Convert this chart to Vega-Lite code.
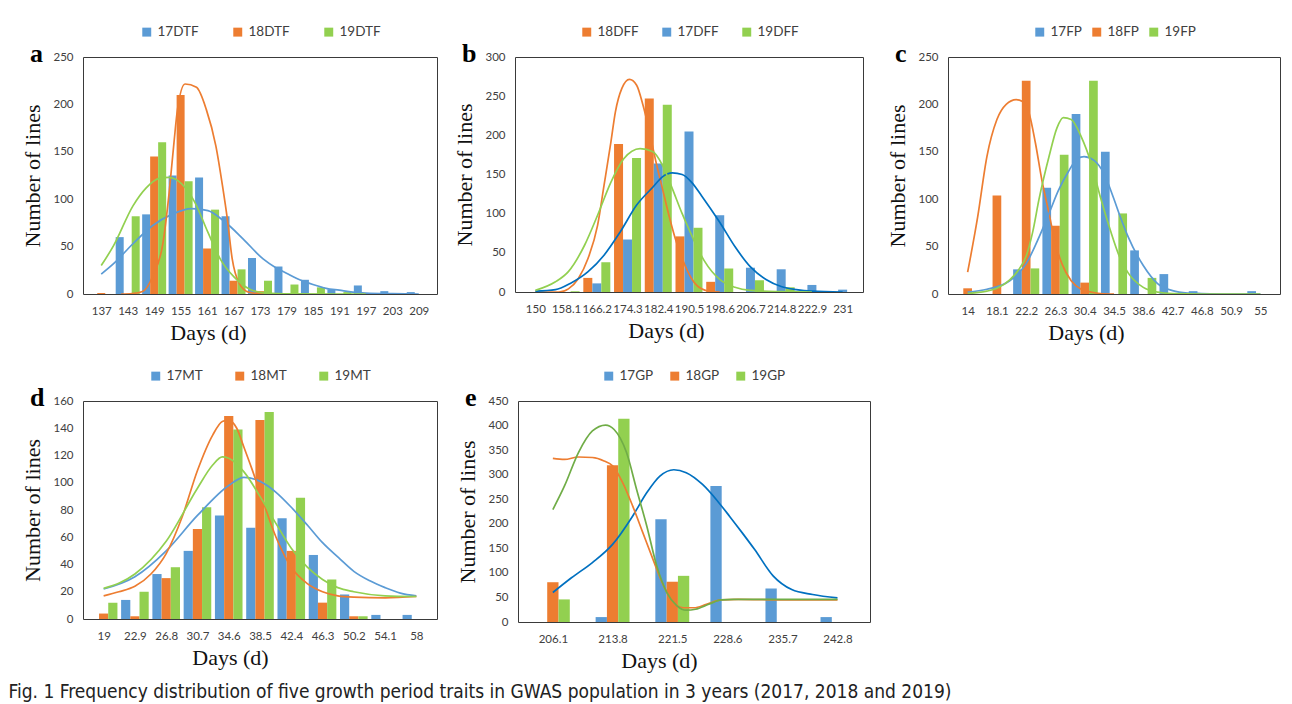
{
"$schema": "https://vega.github.io/schema/vega-lite/v6.json",
"background": "white",
"padding": {"left": 8, "top": 24, "right": 4, "bottom": 4},
"config": {
  "view": {"stroke": "#3a3a3a", "strokeWidth": 1},
  "axis": {"grid": false, "ticks": false, "domain": false, "labelFont": "Lato", "labelFontSize": 11.5, "labelColor": "#404040", "titleFont": "Liberation Serif", "titleFontSize": 22, "titleFontWeight": "normal", "titleColor": "#111111"},
  "axisX": {"titlePadding": 6, "labelPadding": 11},
  "axisY": {"titlePadding": 8, "labelPadding": 10},
  "legend": {"orient": "top", "direction": "horizontal", "title": null, "symbolType": "square", "symbolSize": 80, "symbolStrokeWidth": 0, "labelFont": "Lato", "labelFontSize": 13.5, "labelColor": "#404040", "labelOffset": 4, "offset": 18, "padding": 0, "layout": {"top": {"anchor": "middle"}}},
  "title": {"font": "Liberation Serif", "fontSize": 26, "fontWeight": "bold", "color": "#000000", "orient": "top", "anchor": "start", "frame": "group", "align": "left", "baseline": "alphabetic", "dx": -53, "offset": -42}
},
"title": {"text": "Fig. 1  Frequency distribution of five growth period traits in GWAS population in 3 years (2017, 2018 and 2019)", "orient": "bottom", "anchor": "start", "frame": "bounds", "align": "left", "baseline": "top", "dx": -13, "offset": 11, "font": "DejaVu Sans Condensed, Liberation Sans Narrow, sans-serif", "fontSize": 19, "fontWeight": "normal", "color": "#222222"},
"datasets": {
  "a": [
    {"kind":"bar","series":"17DTF","day":143,"lines":60},{"kind":"bar","series":"17DTF","day":149,"lines":84},{"kind":"bar","series":"17DTF","day":155,"lines":125},{"kind":"bar","series":"17DTF","day":161,"lines":123},{"kind":"bar","series":"17DTF","day":167,"lines":82},{"kind":"bar","series":"17DTF","day":173,"lines":38},{"kind":"bar","series":"17DTF","day":179,"lines":29},{"kind":"bar","series":"17DTF","day":185,"lines":15},{"kind":"bar","series":"17DTF","day":191,"lines":5},{"kind":"bar","series":"17DTF","day":197,"lines":9},{"kind":"bar","series":"17DTF","day":203,"lines":3},{"kind":"bar","series":"17DTF","day":209,"lines":2},
    {"kind":"bar","series":"18DTF","day":137,"lines":1},{"kind":"bar","series":"18DTF","day":149,"lines":145},{"kind":"bar","series":"18DTF","day":155,"lines":210},{"kind":"bar","series":"18DTF","day":161,"lines":48},{"kind":"bar","series":"18DTF","day":167,"lines":14},{"kind":"bar","series":"18DTF","day":173,"lines":3},
    {"kind":"bar","series":"19DTF","day":143,"lines":82},{"kind":"bar","series":"19DTF","day":149,"lines":160},{"kind":"bar","series":"19DTF","day":155,"lines":119},{"kind":"bar","series":"19DTF","day":161,"lines":89},{"kind":"bar","series":"19DTF","day":167,"lines":26},{"kind":"bar","series":"19DTF","day":173,"lines":14},{"kind":"bar","series":"19DTF","day":179,"lines":10},{"kind":"bar","series":"19DTF","day":185,"lines":7},{"kind":"bar","series":"19DTF","day":191,"lines":2},
    {"kind":"curve","series":"17DTF","day":137,"lines":21},{"kind":"curve","series":"17DTF","day":139.8,"lines":32},{"kind":"curve","series":"17DTF","day":144.2,"lines":53},{"kind":"curve","series":"17DTF","day":148.6,"lines":72},{"kind":"curve","series":"17DTF","day":153,"lines":84},{"kind":"curve","series":"17DTF","day":157.5,"lines":90},{"kind":"curve","series":"17DTF","day":161.2,"lines":88},{"kind":"curve","series":"17DTF","day":164.8,"lines":77},{"kind":"curve","series":"17DTF","day":169.2,"lines":58},{"kind":"curve","series":"17DTF","day":173.7,"lines":37},{"kind":"curve","series":"17DTF","day":176.5,"lines":28},{"kind":"curve","series":"17DTF","day":179,"lines":22},{"kind":"curve","series":"17DTF","day":182,"lines":15},{"kind":"curve","series":"17DTF","day":185,"lines":10},{"kind":"curve","series":"17DTF","day":188,"lines":6},{"kind":"curve","series":"17DTF","day":191,"lines":4},{"kind":"curve","series":"17DTF","day":194,"lines":2},{"kind":"curve","series":"17DTF","day":197,"lines":1},{"kind":"curve","series":"17DTF","day":203,"lines":0.3},{"kind":"curve","series":"17DTF","day":209,"lines":0},
    {"kind":"curve","series":"18DTF","day":141.5,"lines":0},{"kind":"curve","series":"18DTF","day":144,"lines":0.5},{"kind":"curve","series":"18DTF","day":146.5,"lines":3},{"kind":"curve","series":"18DTF","day":148.7,"lines":19},{"kind":"curve","series":"18DTF","day":151,"lines":54},{"kind":"curve","series":"18DTF","day":152.4,"lines":107},{"kind":"curve","series":"18DTF","day":153.5,"lines":160},{"kind":"curve","series":"18DTF","day":154.3,"lines":195},{"kind":"curve","series":"18DTF","day":156,"lines":221.5},{"kind":"curve","series":"18DTF","day":158.6,"lines":218},{"kind":"curve","series":"18DTF","day":160.8,"lines":195},{"kind":"curve","series":"18DTF","day":163,"lines":156},{"kind":"curve","series":"18DTF","day":164.5,"lines":114},{"kind":"curve","series":"18DTF","day":165.6,"lines":79},{"kind":"curve","series":"18DTF","day":166.7,"lines":37},{"kind":"curve","series":"18DTF","day":168.2,"lines":12},{"kind":"curve","series":"18DTF","day":170.4,"lines":2},{"kind":"curve","series":"18DTF","day":173.3,"lines":0},
    {"kind":"curve","series":"19DTF","day":137,"lines":30},{"kind":"curve","series":"19DTF","day":139.8,"lines":51},{"kind":"curve","series":"19DTF","day":144.2,"lines":93},{"kind":"curve","series":"19DTF","day":147.2,"lines":112},{"kind":"curve","series":"19DTF","day":150.1,"lines":122},{"kind":"curve","series":"19DTF","day":152.3,"lines":123},{"kind":"curve","series":"19DTF","day":155.3,"lines":116},{"kind":"curve","series":"19DTF","day":158.2,"lines":97},{"kind":"curve","series":"19DTF","day":161.2,"lines":65},{"kind":"curve","series":"19DTF","day":164.1,"lines":36},{"kind":"curve","series":"19DTF","day":167.1,"lines":18},{"kind":"curve","series":"19DTF","day":170.7,"lines":5},{"kind":"curve","series":"19DTF","day":174.4,"lines":1},{"kind":"curve","series":"19DTF","day":180,"lines":0.2},{"kind":"curve","series":"19DTF","day":190,"lines":0},{"kind":"curve","series":"19DTF","day":197,"lines":0}
  ],
  "b": [
    {"kind":"bar","series":"18DFF","day":166.2,"lines":18},{"kind":"bar","series":"18DFF","day":174.3,"lines":189},{"kind":"bar","series":"18DFF","day":182.4,"lines":247},{"kind":"bar","series":"18DFF","day":190.5,"lines":71},{"kind":"bar","series":"18DFF","day":198.6,"lines":13},
    {"kind":"bar","series":"17DFF","day":166.2,"lines":11},{"kind":"bar","series":"17DFF","day":174.3,"lines":67},{"kind":"bar","series":"17DFF","day":182.4,"lines":164},{"kind":"bar","series":"17DFF","day":190.5,"lines":205},{"kind":"bar","series":"17DFF","day":198.6,"lines":98},{"kind":"bar","series":"17DFF","day":206.7,"lines":31},{"kind":"bar","series":"17DFF","day":214.8,"lines":29},{"kind":"bar","series":"17DFF","day":222.9,"lines":9},{"kind":"bar","series":"17DFF","day":231,"lines":3},
    {"kind":"bar","series":"19DFF","day":158.1,"lines":1},{"kind":"bar","series":"19DFF","day":166.2,"lines":38},{"kind":"bar","series":"19DFF","day":174.3,"lines":171},{"kind":"bar","series":"19DFF","day":182.4,"lines":239},{"kind":"bar","series":"19DFF","day":190.5,"lines":82},{"kind":"bar","series":"19DFF","day":198.6,"lines":30},{"kind":"bar","series":"19DFF","day":206.7,"lines":15},{"kind":"bar","series":"19DFF","day":214.8,"lines":6},
    {"kind":"curve","series":"18DFF","day":150,"lines":0},{"kind":"curve","series":"18DFF","day":156.2,"lines":0},{"kind":"curve","series":"18DFF","day":158.7,"lines":4},{"kind":"curve","series":"18DFF","day":161.3,"lines":17},{"kind":"curve","series":"18DFF","day":163.9,"lines":43},{"kind":"curve","series":"18DFF","day":166.4,"lines":85},{"kind":"curve","series":"18DFF","day":168.1,"lines":136},{"kind":"curve","series":"18DFF","day":169.9,"lines":191},{"kind":"curve","series":"18DFF","day":171.1,"lines":230},{"kind":"curve","series":"18DFF","day":172.8,"lines":260},{"kind":"curve","series":"18DFF","day":174.8,"lines":271.5},{"kind":"curve","series":"18DFF","day":176.7,"lines":264},{"kind":"curve","series":"18DFF","day":178.4,"lines":238},{"kind":"curve","series":"18DFF","day":180.1,"lines":204},{"kind":"curve","series":"18DFF","day":181.8,"lines":166},{"kind":"curve","series":"18DFF","day":183.5,"lines":132},{"kind":"curve","series":"18DFF","day":185.2,"lines":98},{"kind":"curve","series":"18DFF","day":186.9,"lines":68},{"kind":"curve","series":"18DFF","day":189.1,"lines":38},{"kind":"curve","series":"18DFF","day":191.2,"lines":17},{"kind":"curve","series":"18DFF","day":193.8,"lines":4},{"kind":"curve","series":"18DFF","day":196.5,"lines":0.5},{"kind":"curve","series":"18DFF","day":198.6,"lines":0},
    {"kind":"curve","series":"17DFF","day":150,"lines":1},{"kind":"curve","series":"17DFF","day":155.3,"lines":3},{"kind":"curve","series":"17DFF","day":159.2,"lines":11},{"kind":"curve","series":"17DFF","day":163.9,"lines":26},{"kind":"curve","series":"17DFF","day":168.1,"lines":47},{"kind":"curve","series":"17DFF","day":172.4,"lines":77},{"kind":"curve","series":"17DFF","day":176.7,"lines":111},{"kind":"curve","series":"17DFF","day":181,"lines":134},{"kind":"curve","series":"17DFF","day":183.5,"lines":147},{"kind":"curve","series":"17DFF","day":186.1,"lines":152},{"kind":"curve","series":"17DFF","day":188.7,"lines":150},{"kind":"curve","series":"17DFF","day":191.2,"lines":140},{"kind":"curve","series":"17DFF","day":193.8,"lines":123},{"kind":"curve","series":"17DFF","day":198.6,"lines":89},{"kind":"curve","series":"17DFF","day":202.6,"lines":58},{"kind":"curve","series":"17DFF","day":206.7,"lines":32},{"kind":"curve","series":"17DFF","day":210.8,"lines":16},{"kind":"curve","series":"17DFF","day":214.8,"lines":7},{"kind":"curve","series":"17DFF","day":218.8,"lines":3},{"kind":"curve","series":"17DFF","day":222.9,"lines":1},{"kind":"curve","series":"17DFF","day":231,"lines":0},
    {"kind":"curve","series":"19DFF","day":150,"lines":2},{"kind":"curve","series":"19DFF","day":155.3,"lines":13},{"kind":"curve","series":"19DFF","day":158.7,"lines":26},{"kind":"curve","series":"19DFF","day":163,"lines":60},{"kind":"curve","series":"19DFF","day":166.4,"lines":98},{"kind":"curve","series":"19DFF","day":169.9,"lines":140},{"kind":"curve","series":"19DFF","day":173.3,"lines":170},{"kind":"curve","series":"19DFF","day":177.6,"lines":183},{"kind":"curve","series":"19DFF","day":181,"lines":179},{"kind":"curve","series":"19DFF","day":183.5,"lines":162},{"kind":"curve","series":"19DFF","day":186.1,"lines":132},{"kind":"curve","series":"19DFF","day":188.7,"lines":100},{"kind":"curve","series":"19DFF","day":190.5,"lines":80},{"kind":"curve","series":"19DFF","day":194.5,"lines":40},{"kind":"curve","series":"19DFF","day":198.6,"lines":16},{"kind":"curve","series":"19DFF","day":202.6,"lines":6},{"kind":"curve","series":"19DFF","day":206.7,"lines":2},{"kind":"curve","series":"19DFF","day":214.8,"lines":0.5},{"kind":"curve","series":"19DFF","day":222.9,"lines":0}
  ],
  "c": [
    {"kind":"bar","series":"17FP","day":22.2,"lines":26},{"kind":"bar","series":"17FP","day":26.3,"lines":112},{"kind":"bar","series":"17FP","day":30.4,"lines":190},{"kind":"bar","series":"17FP","day":34.5,"lines":150},{"kind":"bar","series":"17FP","day":38.6,"lines":46},{"kind":"bar","series":"17FP","day":42.7,"lines":21},{"kind":"bar","series":"17FP","day":46.8,"lines":3},{"kind":"bar","series":"17FP","day":55,"lines":3},
    {"kind":"bar","series":"18FP","day":14,"lines":6},{"kind":"bar","series":"18FP","day":18.1,"lines":104},{"kind":"bar","series":"18FP","day":22.2,"lines":225},{"kind":"bar","series":"18FP","day":26.3,"lines":72},{"kind":"bar","series":"18FP","day":30.4,"lines":12},
    {"kind":"bar","series":"19FP","day":22.2,"lines":27},{"kind":"bar","series":"19FP","day":26.3,"lines":147},{"kind":"bar","series":"19FP","day":30.4,"lines":225},{"kind":"bar","series":"19FP","day":34.5,"lines":85},{"kind":"bar","series":"19FP","day":38.6,"lines":17},
    {"kind":"curve","series":"18FP","day":14,"lines":23},{"kind":"curve","series":"18FP","day":15.4,"lines":81},{"kind":"curve","series":"18FP","day":16.7,"lines":145},{"kind":"curve","series":"18FP","day":18.1,"lines":184},{"kind":"curve","series":"18FP","day":19.4,"lines":200},{"kind":"curve","series":"18FP","day":20.8,"lines":205},{"kind":"curve","series":"18FP","day":21.7,"lines":203},{"kind":"curve","series":"18FP","day":22.6,"lines":191},{"kind":"curve","series":"18FP","day":23.5,"lines":159},{"kind":"curve","series":"18FP","day":24.4,"lines":120},{"kind":"curve","series":"18FP","day":25.4,"lines":85},{"kind":"curve","series":"18FP","day":26.3,"lines":53},{"kind":"curve","series":"18FP","day":27.2,"lines":32},{"kind":"curve","series":"18FP","day":28.5,"lines":14},{"kind":"curve","series":"18FP","day":29.9,"lines":5},{"kind":"curve","series":"18FP","day":31.3,"lines":2},{"kind":"curve","series":"18FP","day":32.6,"lines":0.5},{"kind":"curve","series":"18FP","day":34.5,"lines":0},
    {"kind":"curve","series":"17FP","day":14,"lines":2},{"kind":"curve","series":"17FP","day":16.7,"lines":5},{"kind":"curve","series":"17FP","day":19.9,"lines":14},{"kind":"curve","series":"17FP","day":22.2,"lines":32},{"kind":"curve","series":"17FP","day":24,"lines":60},{"kind":"curve","series":"17FP","day":25.4,"lines":85},{"kind":"curve","series":"17FP","day":26.7,"lines":109},{"kind":"curve","series":"17FP","day":28.1,"lines":129},{"kind":"curve","series":"17FP","day":29.4,"lines":143},{"kind":"curve","series":"17FP","day":30.3,"lines":145},{"kind":"curve","series":"17FP","day":31.7,"lines":141},{"kind":"curve","series":"17FP","day":33.1,"lines":127},{"kind":"curve","series":"17FP","day":34.4,"lines":102},{"kind":"curve","series":"17FP","day":35.4,"lines":81},{"kind":"curve","series":"17FP","day":36.5,"lines":60},{"kind":"curve","series":"17FP","day":38.6,"lines":30},{"kind":"curve","series":"17FP","day":40.6,"lines":11},{"kind":"curve","series":"17FP","day":42.7,"lines":3.5},{"kind":"curve","series":"17FP","day":44.8,"lines":1},{"kind":"curve","series":"17FP","day":46.8,"lines":0.5},{"kind":"curve","series":"17FP","day":50.9,"lines":0},{"kind":"curve","series":"17FP","day":55,"lines":0},
    {"kind":"curve","series":"19FP","day":14,"lines":0.5},{"kind":"curve","series":"19FP","day":16.7,"lines":3},{"kind":"curve","series":"19FP","day":18.1,"lines":6},{"kind":"curve","series":"19FP","day":19.9,"lines":15},{"kind":"curve","series":"19FP","day":21.1,"lines":25},{"kind":"curve","series":"19FP","day":22.2,"lines":40},{"kind":"curve","series":"19FP","day":23.1,"lines":65},{"kind":"curve","series":"19FP","day":24,"lines":100},{"kind":"curve","series":"19FP","day":25.4,"lines":145},{"kind":"curve","series":"19FP","day":26.5,"lines":175},{"kind":"curve","series":"19FP","day":27.4,"lines":186},{"kind":"curve","series":"19FP","day":28.5,"lines":184},{"kind":"curve","series":"19FP","day":29.9,"lines":166},{"kind":"curve","series":"19FP","day":31.3,"lines":138},{"kind":"curve","series":"19FP","day":32.6,"lines":102},{"kind":"curve","series":"19FP","day":34,"lines":67},{"kind":"curve","series":"19FP","day":35.4,"lines":37},{"kind":"curve","series":"19FP","day":36.5,"lines":22},{"kind":"curve","series":"19FP","day":38.6,"lines":7},{"kind":"curve","series":"19FP","day":40.6,"lines":2},{"kind":"curve","series":"19FP","day":42.7,"lines":0.5},{"kind":"curve","series":"19FP","day":46.8,"lines":0},{"kind":"curve","series":"19FP","day":55,"lines":0}
  ],
  "d": [
    {"kind":"bar","series":"17MT","day":22.9,"lines":14},{"kind":"bar","series":"17MT","day":26.8,"lines":33},{"kind":"bar","series":"17MT","day":30.7,"lines":50},{"kind":"bar","series":"17MT","day":34.6,"lines":76},{"kind":"bar","series":"17MT","day":38.5,"lines":67},{"kind":"bar","series":"17MT","day":42.4,"lines":74},{"kind":"bar","series":"17MT","day":46.3,"lines":47},{"kind":"bar","series":"17MT","day":50.2,"lines":18},{"kind":"bar","series":"17MT","day":54.1,"lines":3},{"kind":"bar","series":"17MT","day":58,"lines":3},
    {"kind":"bar","series":"18MT","day":19,"lines":4},{"kind":"bar","series":"18MT","day":22.9,"lines":2},{"kind":"bar","series":"18MT","day":26.8,"lines":30},{"kind":"bar","series":"18MT","day":30.7,"lines":66},{"kind":"bar","series":"18MT","day":34.6,"lines":149},{"kind":"bar","series":"18MT","day":38.5,"lines":146},{"kind":"bar","series":"18MT","day":42.4,"lines":50},{"kind":"bar","series":"18MT","day":46.3,"lines":12},{"kind":"bar","series":"18MT","day":50.2,"lines":2},
    {"kind":"bar","series":"19MT","day":19,"lines":12},{"kind":"bar","series":"19MT","day":22.9,"lines":20},{"kind":"bar","series":"19MT","day":26.8,"lines":38},{"kind":"bar","series":"19MT","day":30.7,"lines":82},{"kind":"bar","series":"19MT","day":34.6,"lines":139},{"kind":"bar","series":"19MT","day":38.5,"lines":152},{"kind":"bar","series":"19MT","day":42.4,"lines":89},{"kind":"bar","series":"19MT","day":46.3,"lines":29},{"kind":"bar","series":"19MT","day":50.2,"lines":2},
    {"kind":"curve","series":"17MT","day":19,"lines":22},{"kind":"curve","series":"17MT","day":22.9,"lines":31},{"kind":"curve","series":"17MT","day":26.8,"lines":50},{"kind":"curve","series":"17MT","day":30.7,"lines":76},{"kind":"curve","series":"17MT","day":34.6,"lines":98},{"kind":"curve","series":"17MT","day":36.5,"lines":104},{"kind":"curve","series":"17MT","day":38.5,"lines":101},{"kind":"curve","series":"17MT","day":40.5,"lines":93},{"kind":"curve","series":"17MT","day":42.4,"lines":82},{"kind":"curve","series":"17MT","day":44.4,"lines":69},{"kind":"curve","series":"17MT","day":46.3,"lines":56},{"kind":"curve","series":"17MT","day":48.3,"lines":45},{"kind":"curve","series":"17MT","day":50.2,"lines":35},{"kind":"curve","series":"17MT","day":52.2,"lines":28},{"kind":"curve","series":"17MT","day":54.1,"lines":23},{"kind":"curve","series":"17MT","day":56,"lines":19},{"kind":"curve","series":"17MT","day":58,"lines":17},
    {"kind":"curve","series":"18MT","day":19,"lines":17},{"kind":"curve","series":"18MT","day":20.9,"lines":20},{"kind":"curve","series":"18MT","day":22.9,"lines":24},{"kind":"curve","series":"18MT","day":24.9,"lines":33},{"kind":"curve","series":"18MT","day":26.8,"lines":48},{"kind":"curve","series":"18MT","day":28.8,"lines":75},{"kind":"curve","series":"18MT","day":30.7,"lines":109},{"kind":"curve","series":"18MT","day":32.6,"lines":135},{"kind":"curve","series":"18MT","day":33.8,"lines":145},{"kind":"curve","series":"18MT","day":34.6,"lines":146},{"kind":"curve","series":"18MT","day":35.6,"lines":140},{"kind":"curve","series":"18MT","day":36.5,"lines":126},{"kind":"curve","series":"18MT","day":37.5,"lines":110},{"kind":"curve","series":"18MT","day":38.5,"lines":93},{"kind":"curve","series":"18MT","day":40.5,"lines":60},{"kind":"curve","series":"18MT","day":42.4,"lines":38},{"kind":"curve","series":"18MT","day":44.4,"lines":26},{"kind":"curve","series":"18MT","day":46.3,"lines":20},{"kind":"curve","series":"18MT","day":48.2,"lines":17},{"kind":"curve","series":"18MT","day":50.2,"lines":16},{"kind":"curve","series":"18MT","day":54.1,"lines":15.5},{"kind":"curve","series":"18MT","day":58,"lines":16.5},
    {"kind":"curve","series":"19MT","day":19,"lines":22.5},{"kind":"curve","series":"19MT","day":22.9,"lines":33},{"kind":"curve","series":"19MT","day":26.8,"lines":57},{"kind":"curve","series":"19MT","day":30.7,"lines":96},{"kind":"curve","series":"19MT","day":32.6,"lines":113},{"kind":"curve","series":"19MT","day":33.8,"lines":119},{"kind":"curve","series":"19MT","day":34.6,"lines":118},{"kind":"curve","series":"19MT","day":36.5,"lines":108},{"kind":"curve","series":"19MT","day":38.5,"lines":90},{"kind":"curve","series":"19MT","day":40.5,"lines":70},{"kind":"curve","series":"19MT","day":42.4,"lines":52},{"kind":"curve","series":"19MT","day":44.4,"lines":38},{"kind":"curve","series":"19MT","day":46.3,"lines":29},{"kind":"curve","series":"19MT","day":48.2,"lines":23},{"kind":"curve","series":"19MT","day":50.2,"lines":20},{"kind":"curve","series":"19MT","day":54.1,"lines":17},{"kind":"curve","series":"19MT","day":58,"lines":16.5}
  ],
  "e": [
    {"kind":"bar","series":"17GP","day":213.8,"lines":10},{"kind":"bar","series":"17GP","day":221.5,"lines":209},{"kind":"bar","series":"17GP","day":228.6,"lines":277},{"kind":"bar","series":"17GP","day":235.7,"lines":68},{"kind":"bar","series":"17GP","day":242.8,"lines":10},
    {"kind":"bar","series":"18GP","day":206.1,"lines":81},{"kind":"bar","series":"18GP","day":213.8,"lines":319},{"kind":"bar","series":"18GP","day":221.5,"lines":82},
    {"kind":"bar","series":"19GP","day":206.1,"lines":46},{"kind":"bar","series":"19GP","day":213.8,"lines":414},{"kind":"bar","series":"19GP","day":221.5,"lines":94},
    {"kind":"curve","series":"17GP","day":206.1,"lines":60},{"kind":"curve","series":"17GP","day":208.5,"lines":90},{"kind":"curve","series":"17GP","day":211.2,"lines":121},{"kind":"curve","series":"17GP","day":213.8,"lines":158},{"kind":"curve","series":"17GP","day":216.4,"lines":216},{"kind":"curve","series":"17GP","day":218.2,"lines":263},{"kind":"curve","series":"17GP","day":219.9,"lines":297},{"kind":"curve","series":"17GP","day":221.7,"lines":310},{"kind":"curve","series":"17GP","day":223.3,"lines":304},{"kind":"curve","series":"17GP","day":225.4,"lines":280},{"kind":"curve","series":"17GP","day":227.4,"lines":245},{"kind":"curve","series":"17GP","day":228.9,"lines":215},{"kind":"curve","series":"17GP","day":230.5,"lines":182},{"kind":"curve","series":"17GP","day":232.1,"lines":148},{"kind":"curve","series":"17GP","day":234.5,"lines":94},{"kind":"curve","series":"17GP","day":236.9,"lines":66},{"kind":"curve","series":"17GP","day":239.6,"lines":56},{"kind":"curve","series":"17GP","day":242.8,"lines":49},
    {"kind":"curve","series":"18GP","day":206.1,"lines":333},{"kind":"curve","series":"18GP","day":207.6,"lines":331},{"kind":"curve","series":"18GP","day":209.4,"lines":336},{"kind":"curve","series":"18GP","day":211.2,"lines":335},{"kind":"curve","series":"18GP","day":212.7,"lines":328},{"kind":"curve","series":"18GP","day":213.8,"lines":318},{"kind":"curve","series":"18GP","day":215.1,"lines":284},{"kind":"curve","series":"18GP","day":216.4,"lines":236},{"kind":"curve","series":"18GP","day":217.7,"lines":182},{"kind":"curve","series":"18GP","day":219,"lines":128},{"kind":"curve","series":"18GP","day":220.4,"lines":73},{"kind":"curve","series":"18GP","day":221.7,"lines":39},{"kind":"curve","series":"18GP","day":222.9,"lines":29},{"kind":"curve","series":"18GP","day":224.3,"lines":29},{"kind":"curve","series":"18GP","day":225.9,"lines":36},{"kind":"curve","series":"18GP","day":227.8,"lines":45},{"kind":"curve","series":"18GP","day":230,"lines":46},{"kind":"curve","series":"18GP","day":235.7,"lines":45},{"kind":"curve","series":"18GP","day":242.8,"lines":45},
    {"kind":"curve","series":"19GP","day":206.1,"lines":229},{"kind":"curve","series":"19GP","day":207.6,"lines":277},{"kind":"curve","series":"19GP","day":209.4,"lines":345},{"kind":"curve","series":"19GP","day":211.2,"lines":389},{"kind":"curve","series":"19GP","day":212.9,"lines":401},{"kind":"curve","series":"19GP","day":214,"lines":392},{"kind":"curve","series":"19GP","day":215.6,"lines":345},{"kind":"curve","series":"19GP","day":216.9,"lines":270},{"kind":"curve","series":"19GP","day":218.2,"lines":196},{"kind":"curve","series":"19GP","day":219.5,"lines":114},{"kind":"curve","series":"19GP","day":220.8,"lines":60},{"kind":"curve","series":"19GP","day":222.1,"lines":33},{"kind":"curve","series":"19GP","day":223.3,"lines":24},{"kind":"curve","series":"19GP","day":224.5,"lines":26},{"kind":"curve","series":"19GP","day":226.2,"lines":36},{"kind":"curve","series":"19GP","day":227.8,"lines":45},{"kind":"curve","series":"19GP","day":229.4,"lines":46},{"kind":"curve","series":"19GP","day":235.7,"lines":46},{"kind":"curve","series":"19GP","day":242.8,"lines":46}
  ]
},
"vconcat": [
  {
    "hconcat": [
      {
        "hconcat": [
          {
            "width": 354, "height": 237,
            "data": {"name": "a"},
            "title": {"text": "a"},
            "encoding": {
              "x": {"field": "day", "type": "quantitative", "scale": {"domain": [134, 212], "nice": false, "zero": false}, "axis": {"values": [137,143,149,155,161,167,173,179,185,191,197,203,209], "format": "d", "title": "Days (d)", "titleX": 125}},
              "y": {"field": "lines", "type": "quantitative", "scale": {"domain": [0, 250], "nice": false}, "axis": {"values": [0,50,100,150,200,250], "title": "Number of lines"}}
            },
            "layer": [
              {"transform": [{"filter": "datum.kind == 'bar' && datum.series == '17DTF'"}], "mark": {"type": "bar", "width": 8, "xOffset": -8}, "encoding": {"color": {"field": "series", "type": "nominal", "scale": {"domain": ["17DTF","18DTF","19DTF"], "range": ["#5B9BD5","#ED7D31","#92D050"]}, "legend": {"columnPadding": 32}}}},
              {"transform": [{"filter": "datum.kind == 'bar' && datum.series == '18DTF'"}], "mark": {"type": "bar", "width": 8, "xOffset": 0}, "encoding": {"color": {"field": "series", "type": "nominal", "scale": {"domain": ["17DTF","18DTF","19DTF"], "range": ["#5B9BD5","#ED7D31","#92D050"]}, "legend": {"columnPadding": 32}}}},
              {"transform": [{"filter": "datum.kind == 'bar' && datum.series == '19DTF'"}], "mark": {"type": "bar", "width": 8, "xOffset": 8}, "encoding": {"color": {"field": "series", "type": "nominal", "scale": {"domain": ["17DTF","18DTF","19DTF"], "range": ["#5B9BD5","#ED7D31","#92D050"]}, "legend": {"columnPadding": 32}}}},
              {"transform": [{"filter": "datum.kind == 'curve'"}], "mark": {"type": "line", "interpolate": "monotone", "strokeWidth": 1.7, "clip": true}, "encoding": {"stroke": {"field": "series", "type": "nominal", "scale": {"domain": ["17DTF","18DTF","19DTF"], "range": ["#5B9BD5","#ED7D31","#92D050"]}, "legend": null}}}
            ]
          },
          {
            "width": 348, "height": 235,
            "data": {"name": "b"},
            "title": {"text": "b"},
            "encoding": {
              "x": {"field": "day", "type": "quantitative", "scale": {"domain": [145.95, 235.05], "nice": false, "zero": false}, "axis": {"values": [150,158.1,166.2,174.3,182.4,190.5,198.6,206.7,214.8,222.9,231], "format": ".1~f", "title": "Days (d)", "titleX": 151}},
              "y": {"field": "lines", "type": "quantitative", "scale": {"domain": [0, 300], "nice": false}, "axis": {"values": [0,50,100,150,200,250,300], "title": "Number of lines"}}
            },
            "layer": [
              {"transform": [{"filter": "datum.kind == 'bar' && datum.series == '18DFF'"}], "mark": {"type": "bar", "width": 9, "xOffset": -9}, "encoding": {"color": {"field": "series", "type": "nominal", "scale": {"domain": ["18DFF","17DFF","19DFF"], "range": ["#ED7D31","#5B9BD5","#92D050"]}, "legend": {"columnPadding": 21}}}},
              {"transform": [{"filter": "datum.kind == 'bar' && datum.series == '17DFF'"}], "mark": {"type": "bar", "width": 9, "xOffset": 0}, "encoding": {"color": {"field": "series", "type": "nominal", "scale": {"domain": ["18DFF","17DFF","19DFF"], "range": ["#ED7D31","#5B9BD5","#92D050"]}, "legend": {"columnPadding": 21}}}},
              {"transform": [{"filter": "datum.kind == 'bar' && datum.series == '19DFF'"}], "mark": {"type": "bar", "width": 9, "xOffset": 9}, "encoding": {"color": {"field": "series", "type": "nominal", "scale": {"domain": ["18DFF","17DFF","19DFF"], "range": ["#ED7D31","#5B9BD5","#92D050"]}, "legend": {"columnPadding": 21}}}},
              {"transform": [{"filter": "datum.kind == 'curve'"}], "mark": {"type": "line", "interpolate": "monotone", "strokeWidth": 1.7, "clip": true}, "encoding": {"stroke": {"field": "series", "type": "nominal", "scale": {"domain": ["18DFF","17DFF","19DFF"], "range": ["#ED7D31","#0070C0","#92D050"]}, "legend": null}}}
            ]
          }
        ],
        "spacing": 15,
        "resolve": {"scale": {"color": "independent", "stroke": "independent"}, "legend": {"color": "independent", "stroke": "independent"}}
      },
      {
        "width": 332, "height": 237,
        "data": {"name": "c"},
        "title": {"text": "c"},
        "encoding": {
          "x": {"field": "day", "type": "quantitative", "scale": {"domain": [11.95, 57.05], "nice": false, "zero": false}, "axis": {"values": [14,18.1,22.2,26.3,30.4,34.5,38.6,42.7,46.8,50.9,55], "format": ".1~f", "title": "Days (d)", "titleX": 138}},
          "y": {"field": "lines", "type": "quantitative", "scale": {"domain": [0, 250], "nice": false}, "axis": {"values": [0,50,100,150,200,250], "title": "Number of lines"}}
        },
        "layer": [
          {"transform": [{"filter": "datum.kind == 'bar' && datum.series == '17FP'"}], "mark": {"type": "bar", "width": 8.7, "xOffset": -8.7}, "encoding": {"color": {"field": "series", "type": "nominal", "scale": {"domain": ["17FP","18FP","19FP"], "range": ["#5B9BD5","#ED7D31","#92D050"]}, "legend": {"columnPadding": 8}}}},
          {"transform": [{"filter": "datum.kind == 'bar' && datum.series == '18FP'"}], "mark": {"type": "bar", "width": 8.7, "xOffset": 0}, "encoding": {"color": {"field": "series", "type": "nominal", "scale": {"domain": ["17FP","18FP","19FP"], "range": ["#5B9BD5","#ED7D31","#92D050"]}, "legend": {"columnPadding": 8}}}},
          {"transform": [{"filter": "datum.kind == 'bar' && datum.series == '19FP'"}], "mark": {"type": "bar", "width": 8.7, "xOffset": 8.7}, "encoding": {"color": {"field": "series", "type": "nominal", "scale": {"domain": ["17FP","18FP","19FP"], "range": ["#5B9BD5","#ED7D31","#92D050"]}, "legend": {"columnPadding": 8}}}},
          {"transform": [{"filter": "datum.kind == 'curve'"}], "mark": {"type": "line", "interpolate": "monotone", "strokeWidth": 1.7, "clip": true}, "encoding": {"stroke": {"field": "series", "type": "nominal", "scale": {"domain": ["17FP","18FP","19FP"], "range": ["#5B9BD5","#ED7D31","#92D050"]}, "legend": null}}}
        ]
      }
    ],
    "spacing": 22,
    "resolve": {"scale": {"color": "independent", "stroke": "independent"}, "legend": {"color": "independent", "stroke": "independent"}}
  },
  {
    "hconcat": [
      {
        "width": 354, "height": 218,
        "data": {"name": "d"},
        "title": {"text": "d"},
        "encoding": {
          "x": {"field": "day", "type": "quantitative", "scale": {"domain": [17.05, 59.95], "nice": false, "zero": false}, "axis": {"values": [19,22.9,26.8,30.7,34.6,38.5,42.4,46.3,50.2,54.1,58], "format": ".1~f", "title": "Days (d)", "titleX": 147}},
          "y": {"field": "lines", "type": "quantitative", "scale": {"domain": [0, 160], "nice": false}, "axis": {"values": [0,20,40,60,80,100,120,140,160], "title": "Number of lines"}}
        },
        "layer": [
          {"transform": [{"filter": "datum.kind == 'bar' && datum.series == '17MT'"}], "mark": {"type": "bar", "width": 9.2, "xOffset": -9.2}, "encoding": {"color": {"field": "series", "type": "nominal", "scale": {"domain": ["17MT","18MT","19MT"], "range": ["#5B9BD5","#ED7D31","#92D050"]}, "legend": {"columnPadding": 30}}}},
          {"transform": [{"filter": "datum.kind == 'bar' && datum.series == '18MT'"}], "mark": {"type": "bar", "width": 9.2, "xOffset": 0}, "encoding": {"color": {"field": "series", "type": "nominal", "scale": {"domain": ["17MT","18MT","19MT"], "range": ["#5B9BD5","#ED7D31","#92D050"]}, "legend": {"columnPadding": 30}}}},
          {"transform": [{"filter": "datum.kind == 'bar' && datum.series == '19MT'"}], "mark": {"type": "bar", "width": 9.2, "xOffset": 9.2}, "encoding": {"color": {"field": "series", "type": "nominal", "scale": {"domain": ["17MT","18MT","19MT"], "range": ["#5B9BD5","#ED7D31","#92D050"]}, "legend": {"columnPadding": 30}}}},
          {"transform": [{"filter": "datum.kind == 'curve'"}], "mark": {"type": "line", "interpolate": "monotone", "strokeWidth": 1.7, "clip": true}, "encoding": {"stroke": {"field": "series", "type": "nominal", "scale": {"domain": ["17MT","18MT","19MT"], "range": ["#5B9BD5","#ED7D31","#92D050"]}, "legend": null}}}
        ]
      },
      {
        "width": 352, "height": 221,
        "data": {"name": "e"},
        "title": {"text": "e"},
        "encoding": {
          "x": {"field": "day", "type": "quantitative", "scale": {"domain": [202.25, 246.35], "nice": false, "zero": false}, "axis": {"values": [206.1,213.8,221.5,228.6,235.7,242.8], "format": ".1f", "title": "Days (d)", "titleX": 141}},
          "y": {"field": "lines", "type": "quantitative", "scale": {"domain": [0, 450], "nice": false}, "axis": {"values": [0,50,100,150,200,250,300,350,400,450], "title": "Number of lines"}}
        },
        "layer": [
          {"transform": [{"filter": "datum.kind == 'bar' && datum.series == '17GP'"}], "mark": {"type": "bar", "width": 11.3, "xOffset": -11.3}, "encoding": {"color": {"field": "series", "type": "nominal", "scale": {"domain": ["17GP","18GP","19GP"], "range": ["#5B9BD5","#ED7D31","#92D050"]}, "legend": {"columnPadding": 14}}}},
          {"transform": [{"filter": "datum.kind == 'bar' && datum.series == '18GP'"}], "mark": {"type": "bar", "width": 11.3, "xOffset": 0}, "encoding": {"color": {"field": "series", "type": "nominal", "scale": {"domain": ["17GP","18GP","19GP"], "range": ["#5B9BD5","#ED7D31","#92D050"]}, "legend": {"columnPadding": 14}}}},
          {"transform": [{"filter": "datum.kind == 'bar' && datum.series == '19GP'"}], "mark": {"type": "bar", "width": 11.3, "xOffset": 11.3}, "encoding": {"color": {"field": "series", "type": "nominal", "scale": {"domain": ["17GP","18GP","19GP"], "range": ["#5B9BD5","#ED7D31","#92D050"]}, "legend": {"columnPadding": 14}}}},
          {"transform": [{"filter": "datum.kind == 'curve'"}], "mark": {"type": "line", "interpolate": "monotone", "strokeWidth": 1.7, "clip": true}, "encoding": {"stroke": {"field": "series", "type": "nominal", "scale": {"domain": ["17GP","18GP","19GP"], "range": ["#0070C0","#ED7D31","#70AD47"]}, "legend": null}}}
        ]
      }
    ],
    "spacing": 18,
    "resolve": {"scale": {"color": "independent", "stroke": "independent"}, "legend": {"color": "independent", "stroke": "independent"}}
  }
],
"spacing": 24,
"resolve": {"scale": {"color": "independent", "stroke": "independent"}, "legend": {"color": "independent", "stroke": "independent"}}
}
